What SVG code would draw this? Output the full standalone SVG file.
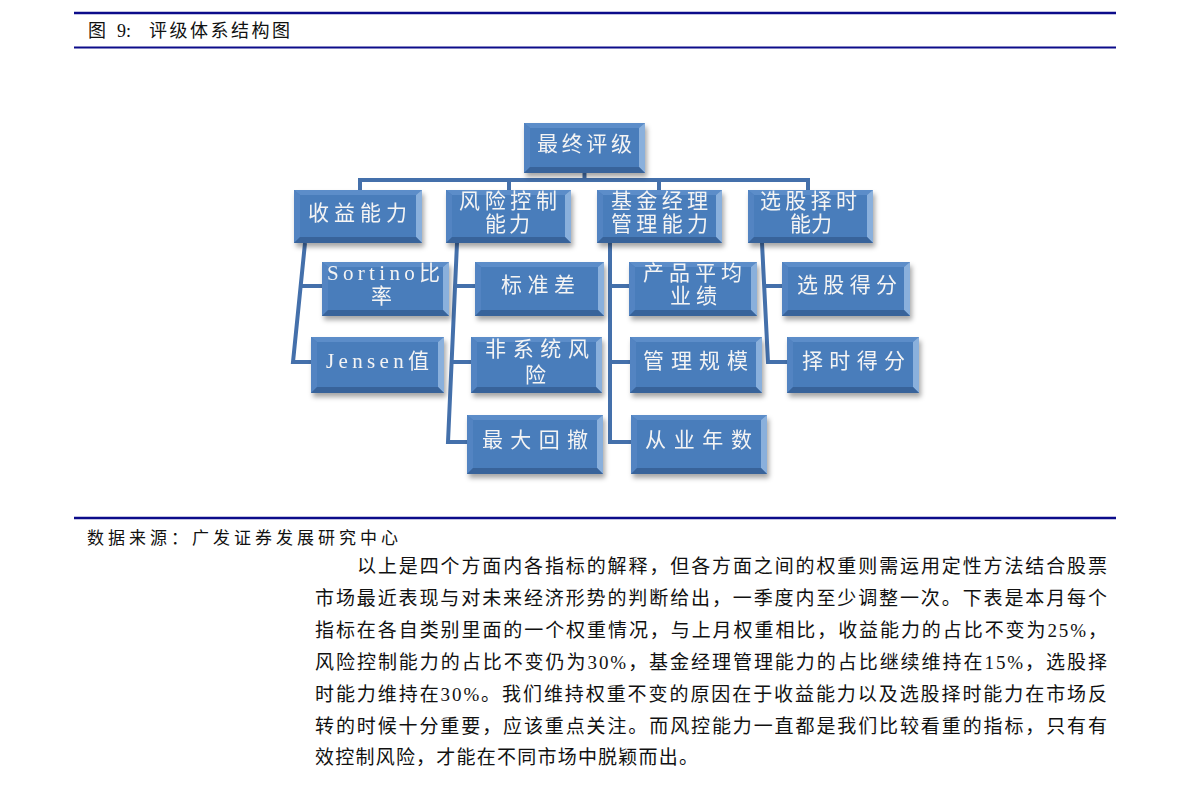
<svg xmlns="http://www.w3.org/2000/svg" width="1191" height="787" viewBox="0 0 1191 787">
<style>
.rule{stroke:#0c0c8a;fill:none}
.pg{font-family:"Liberation Serif","Noto Sans CJK SC",serif;fill:#111}
.lbl{font-family:"Liberation Serif","Noto Sans CJK SC",serif;font-size:21px;fill:#f4f4f4}
.conn path{fill:none;stroke:#4470ab;stroke-width:4;stroke-linejoin:miter}
.m{fill:#4a7dbb}
.t{fill:#5c8dc9}
.r{fill:#8ab0dc}
.b{fill:#38639a}
.l{fill:#5284c2}
.node{filter:url(#sh)}
</style>
<defs>
<filter id="sh" x="-10%" y="-10%" width="125%" height="140%">
<feDropShadow dx="2" dy="4" stdDeviation="2.5" flood-color="#000" flood-opacity="0.35"/>
</filter>
</defs>
<rect width="1191" height="787" fill="#fff"/>

<!-- page header -->
<line class="rule" x1="74" y1="13" x2="1116" y2="13" stroke-width="2.5"/>
<text class="pg" y="37" font-size="18"><tspan x="88">图</tspan><tspan x="117">9:</tspan><tspan x="149" textLength="141" lengthAdjust="spacing">评级体系结构图</tspan></text>
<line class="rule" x1="74" y1="47.5" x2="1116" y2="47.5" stroke-width="2"/>

<!-- connectors -->
<g id="connectors" class="conn">
<path d="M584.5 173 V180"/>
<path d="M360 191 V180 H808 V191"/>
<path d="M509 180 V191"/>
<path d="M659 180 V191"/>
<path d="M305 243 L293 362 H312"/>
<path d="M300.7 286 H323"/>
<path d="M457 243 L448 442 H468"/>
<path d="M455 286 H476"/>
<path d="M451.6 362 H472"/>
<path d="M610 243 V442 H632"/>
<path d="M610 286 H630"/>
<path d="M610 362 H631"/>
<path d="M762 243 L768 362 H788"/>
<path d="M764.2 286 H783"/>
</g>

<!-- nodes -->
<g id="n-root" class="node">
<rect class="m" x="524" y="123" width="121" height="50"/>
<polygon class="t" points="524,123 645,123 639,128 530,128"/>
<polygon class="l" points="524,123 530,128 530,167 524,173"/>
<polygon class="r" points="645,123 645,173 639,167 639,128"/>
<polygon class="b" points="524,173 530,167 639,167 645,173"/>
<text class="lbl" x="537" y="151" textLength="95" lengthAdjust="spacing">最终评级</text>
</g>

<g id="n-shouyi" class="node">
<rect class="m" x="294" y="190" width="128" height="53"/>
<polygon class="t" points="294,190 422,190 416,195 300,195"/>
<polygon class="l" points="294,190 300,195 300,237 294,243"/>
<polygon class="r" points="422,190 422,243 416,237 416,195"/>
<polygon class="b" points="294,243 300,237 416,237 422,243"/>
<text class="lbl" x="308" y="220" textLength="99" lengthAdjust="spacing">收益能力</text>
</g>

<g id="n-fengxian" class="node">
<rect class="m" x="446" y="190" width="125" height="53"/>
<polygon class="t" points="446,190 571,190 565,195 452,195"/>
<polygon class="l" points="446,190 452,195 452,237 446,243"/>
<polygon class="r" points="571,190 571,243 565,237 565,195"/>
<polygon class="b" points="446,243 452,237 565,237 571,243"/>
<text class="lbl" x="459" y="208" textLength="98" lengthAdjust="spacing">风险控制</text>
<text class="lbl" x="485" y="231" textLength="45" lengthAdjust="spacing">能力</text>
</g>

<g id="n-jijin" class="node">
<rect class="m" x="597" y="190" width="125" height="53"/>
<polygon class="t" points="597,190 722,190 716,195 603,195"/>
<polygon class="l" points="597,190 603,195 603,237 597,243"/>
<polygon class="r" points="722,190 722,243 716,237 716,195"/>
<polygon class="b" points="597,243 603,237 716,237 722,243"/>
<text class="lbl" x="611" y="208" textLength="97" lengthAdjust="spacing">基金经理</text>
<text class="lbl" x="611" y="231" textLength="97" lengthAdjust="spacing">管理能力</text>
</g>

<g id="n-xuangu" class="node">
<rect class="m" x="748" y="190" width="125" height="53"/>
<polygon class="t" points="748,190 873,190 867,195 754,195"/>
<polygon class="l" points="748,190 754,195 754,237 748,243"/>
<polygon class="r" points="873,190 873,243 867,237 867,195"/>
<polygon class="b" points="748,243 754,237 867,237 873,243"/>
<text class="lbl" x="760" y="208" textLength="97" lengthAdjust="spacing">选股择时</text>
<text class="lbl" x="790" y="231" textLength="42" lengthAdjust="spacing">能力</text>
</g>

<g id="n-sortino" class="node">
<rect class="m" x="322" y="262" width="127" height="54"/>
<polygon class="t" points="322,262 449,262 443,267 328,267"/>
<polygon class="l" points="322,262 328,267 328,310 322,316"/>
<polygon class="r" points="449,262 449,316 443,310 443,267"/>
<polygon class="b" points="322,316 328,310 443,310 449,316"/>
<text class="lbl" x="327" y="280" textLength="113" lengthAdjust="spacing">Sortino比</text>
<text class="lbl" x="371" y="303">率</text>
</g>

<g id="n-jensen" class="node">
<rect class="m" x="311" y="337" width="133" height="56"/>
<polygon class="t" points="311,337 444,337 438,342 317,342"/>
<polygon class="l" points="311,337 317,342 317,387 311,393"/>
<polygon class="r" points="444,337 444,393 438,387 438,342"/>
<polygon class="b" points="311,393 317,387 438,387 444,393"/>
<text class="lbl" x="326" y="368" textLength="103" lengthAdjust="spacing">Jensen值</text>
</g>

<g id="n-biaozhuncha" class="node">
<rect class="m" x="475" y="262" width="129" height="54"/>
<polygon class="t" points="475,262 604,262 598,267 481,267"/>
<polygon class="l" points="475,262 481,267 481,310 475,316"/>
<polygon class="r" points="604,262 604,316 598,310 598,267"/>
<polygon class="b" points="475,316 481,310 598,310 604,316"/>
<text class="lbl" x="501" y="292" textLength="74" lengthAdjust="spacing">标准差</text>
</g>

<g id="n-feixitong" class="node">
<rect class="m" x="471" y="337" width="131" height="56"/>
<polygon class="t" points="471,337 602,337 596,342 477,342"/>
<polygon class="l" points="471,337 477,342 477,387 471,393"/>
<polygon class="r" points="602,337 602,393 596,387 596,342"/>
<polygon class="b" points="471,393 477,387 596,387 602,393"/>
<text class="lbl" x="485" y="356" textLength="104" lengthAdjust="spacing">非系统风</text>
<text class="lbl" x="525" y="382">险</text>
</g>

<g id="n-zuida" class="node">
<rect class="m" x="467" y="415" width="136" height="59"/>
<polygon class="t" points="467,415 603,415 597,420 473,420"/>
<polygon class="l" points="467,415 473,420 473,468 467,474"/>
<polygon class="r" points="603,415 603,474 597,468 597,420"/>
<polygon class="b" points="467,474 473,468 597,468 603,474"/>
<text class="lbl" x="482" y="447" textLength="106" lengthAdjust="spacing">最大回撤</text>
</g>

<g id="n-chanpin" class="node">
<rect class="m" x="629" y="262" width="128" height="54"/>
<polygon class="t" points="629,262 757,262 751,267 635,267"/>
<polygon class="l" points="629,262 635,267 635,310 629,316"/>
<polygon class="r" points="757,262 757,316 751,310 751,267"/>
<polygon class="b" points="629,316 635,310 751,310 757,316"/>
<text class="lbl" x="643" y="280" textLength="99" lengthAdjust="spacing">产品平均</text>
<text class="lbl" x="670" y="303" textLength="47" lengthAdjust="spacing">业绩</text>
</g>

<g id="n-guimo" class="node">
<rect class="m" x="630" y="337" width="132" height="56"/>
<polygon class="t" points="630,337 762,337 756,342 636,342"/>
<polygon class="l" points="630,337 636,342 636,387 630,393"/>
<polygon class="r" points="762,337 762,393 756,387 756,342"/>
<polygon class="b" points="630,393 636,387 756,387 762,393"/>
<text class="lbl" x="643" y="368" textLength="105" lengthAdjust="spacing">管理规模</text>
</g>

<g id="n-congye" class="node">
<rect class="m" x="631" y="415" width="136" height="59"/>
<polygon class="t" points="631,415 767,415 761,420 637,420"/>
<polygon class="l" points="631,415 637,420 637,468 631,474"/>
<polygon class="r" points="767,415 767,474 761,468 761,420"/>
<polygon class="b" points="631,474 637,468 761,468 767,474"/>
<text class="lbl" x="645" y="447" textLength="107" lengthAdjust="spacing">从业年数</text>
</g>

<g id="n-xuangudefen" class="node">
<rect class="m" x="782" y="262" width="128" height="54"/>
<polygon class="t" points="782,262 910,262 904,267 788,267"/>
<polygon class="l" points="782,262 788,267 788,310 782,316"/>
<polygon class="r" points="910,262 910,316 904,310 904,267"/>
<polygon class="b" points="782,316 788,310 904,310 910,316"/>
<text class="lbl" x="797" y="292" textLength="100" lengthAdjust="spacing">选股得分</text>
</g>

<g id="n-zeshi" class="node">
<rect class="m" x="787" y="337" width="132" height="56"/>
<polygon class="t" points="787,337 919,337 913,342 793,342"/>
<polygon class="l" points="787,337 793,342 793,387 787,393"/>
<polygon class="r" points="919,337 919,393 913,387 913,342"/>
<polygon class="b" points="787,393 793,387 913,387 919,393"/>
<text class="lbl" x="802" y="368" textLength="103" lengthAdjust="spacing">择时得分</text>
</g>

<!-- source -->
<line class="rule" x1="74" y1="518" x2="1116" y2="518" stroke-width="2.5"/>
<text class="pg" x="87" y="543.5" font-size="17" textLength="311" lengthAdjust="spacing">数据来源：广发证券发展研究中心</text>

<!-- paragraph -->
<g class="pg" font-size="19">
<text x="357" y="573" textLength="750" lengthAdjust="spacing">以上是四个方面内各指标的解释，但各方面之间的权重则需运用定性方法结合股票</text>
<text x="315" y="605" textLength="792" lengthAdjust="spacing">市场最近表现与对未来经济形势的判断给出，一季度内至少调整一次。下表是本月每个</text>
<text x="315" y="637" textLength="792" lengthAdjust="spacing">指标在各自类别里面的一个权重情况，与上月权重相比，收益能力的占比不变为25%，</text>
<text x="315" y="669" textLength="792" lengthAdjust="spacing">风险控制能力的占比不变仍为30%，基金经理管理能力的占比继续维持在15%，选股择</text>
<text x="315" y="701" textLength="792" lengthAdjust="spacing">时能力维持在30%。我们维持权重不变的原因在于收益能力以及选股择时能力在市场反</text>
<text x="315" y="733" textLength="792" lengthAdjust="spacing">转的时候十分重要，应该重点关注。而风控能力一直都是我们比较看重的指标，只有有</text>
<text x="315" y="764" textLength="383" lengthAdjust="spacing">效控制风险，才能在不同市场中脱颖而出。</text>
</g>
</svg>
